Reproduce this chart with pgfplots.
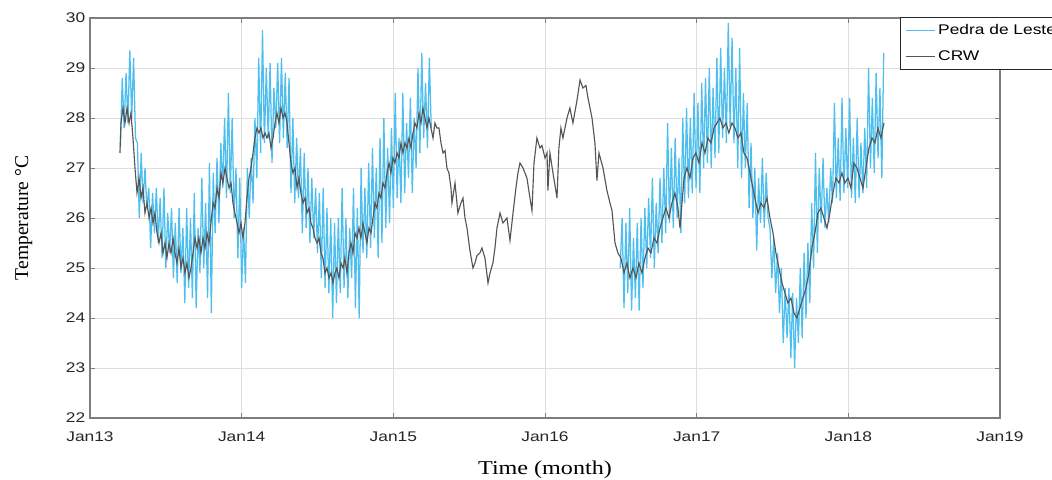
\documentclass[border=0pt]{standalone}
\usepackage{fontspec}
\usepackage{pgfplots}
\pgfplotsset{compat=1.18}
\usepackage{pgfplotstable}
\newfontfamily\tickfont[FakeStretch=1.24]{Liberation Sans}
\newfontfamily\labfont[FakeStretch=1.23]{Liberation Serif}
\newfontfamily\ylabfont{Liberation Serif}
\definecolor{pdl}{RGB}{77,190,238}
\definecolor{crw}{RGB}{85,85,85}
\definecolor{axgray}{RGB}{125,125,125}
\definecolor{gridgray}{RGB}{222,222,222}
\definecolor{txtgray}{RGB}{38,38,38}

% x = months since January 2013, y = temperature (deg C)
\pgfplotstableread{
x y
2.37 27.3
2.45 27.9
2.61 28.2
2.77 27.9
2.93 28.2
3.09 27.9
3.24 28.1
3.40 27.6
3.56 27.0
3.72 26.5
3.88 26.8
4.04 26.4
4.19 26.6
4.35 26.1
4.51 26.3
4.67 26.0
4.83 26.2
4.98 25.9
5.14 26.1
5.30 25.7
5.46 25.5
5.62 25.7
5.78 25.3
5.93 25.5
6.09 25.2
6.25 25.5
6.41 25.3
6.57 25.6
6.73 25.3
6.88 25.1
7.04 25.4
7.20 25.0
7.36 25.2
7.52 24.9
7.67 25.1
7.83 24.8
7.99 25.0
8.15 25.3
8.31 25.6
8.47 25.4
8.62 25.6
8.78 25.3
8.94 25.6
9.10 25.4
9.26 25.7
9.42 25.5
9.57 25.9
9.73 26.3
9.89 26.2
10.05 26.6
10.21 26.4
10.36 26.9
10.52 26.7
10.68 27.0
10.84 26.8
11.00 26.6
11.16 26.7
11.31 26.3
11.47 26.1
11.63 25.9
11.79 25.7
11.95 25.9
12.10 25.6
12.26 25.9
12.42 26.4
12.58 26.8
12.74 27.0
12.90 27.3
13.05 27.6
13.21 27.8
13.37 27.7
13.53 27.8
13.69 27.6
13.85 27.7
14.00 27.6
14.16 27.7
14.32 27.4
14.48 27.6
14.64 27.9
14.79 28.1
14.95 27.9
15.11 28.2
15.27 28.0
15.43 28.1
15.59 27.9
15.74 27.5
15.90 27.1
16.06 26.9
16.22 27.0
16.38 26.6
16.53 26.8
16.69 26.5
16.85 26.3
17.01 26.4
17.17 26.1
17.33 26.2
17.48 25.9
17.64 25.8
17.80 25.6
17.96 25.5
18.12 25.6
18.28 25.3
18.43 25.2
18.59 24.9
18.75 25.0
18.91 24.8
19.07 24.9
19.22 24.7
19.38 24.9
19.54 25.0
19.70 24.8
19.86 25.1
20.02 25.0
20.17 25.2
20.33 24.9
20.49 25.3
20.65 25.5
20.81 25.3
20.97 25.7
21.12 25.6
21.28 25.8
21.44 25.6
21.60 25.9
21.76 25.7
21.91 25.5
22.07 25.8
22.23 25.7
22.39 26.0
22.55 26.3
22.71 26.2
22.86 26.5
23.02 26.4
23.18 26.7
23.34 26.6
23.50 26.9
23.66 27.1
23.81 26.9
23.97 27.2
24.13 27.1
24.29 27.3
24.45 27.2
24.60 27.5
24.76 27.3
24.92 27.5
25.08 27.4
25.24 27.6
25.40 27.4
25.55 27.7
25.71 27.9
25.87 27.8
26.03 28.1
26.19 27.9
26.34 28.2
26.50 28.0
26.66 27.8
26.82 28.0
26.98 27.8
27.14 27.6
27.29 27.9
27.45 27.8
27.61 27.8
27.77 27.5
27.93 27.3
28.09 27.35
28.24 27.0
28.40 26.9
28.56 26.6
28.64 26.3
28.88 26.7
29.11 26.1
29.35 26.3
29.51 26.4
29.67 26.0
29.83 25.8
30.06 25.35
30.30 25.0
30.46 25.1
30.62 25.25
30.85 25.3
31.01 25.4
31.25 25.2
31.49 24.7
31.65 24.9
31.88 25.1
32.04 25.4
32.20 25.8
32.44 26.1
32.67 25.9
32.99 26.0
33.23 25.55
33.47 26.1
33.70 26.6
33.86 26.9
34.02 27.1
34.26 27.0
34.57 26.8
34.81 26.4
34.97 26.15
35.13 27.1
35.36 27.6
35.60 27.4
35.76 27.45
36.00 27.2
36.16 27.3
36.23 26.55
36.39 27.3
36.63 26.9
36.95 26.4
37.10 27.4
37.26 27.8
37.42 27.6
37.74 28.0
37.97 28.2
38.21 27.9
38.53 28.35
38.77 28.76
39.00 28.6
39.24 28.65
39.40 28.4
39.72 28.0
39.95 27.5
40.11 26.75
40.27 27.3
40.59 27.0
40.90 26.55
41.14 26.3
41.30 26.15
41.54 25.5
41.77 25.3
42.01 25.2
42.25 24.9
42.48 25.1
42.72 24.8
42.96 25.0
43.20 24.8
43.43 25.1
43.67 24.9
43.91 25.2
44.15 25.4
44.38 25.3
44.62 25.6
44.86 25.5
45.10 25.8
45.33 26.0
45.57 26.2
45.81 26.0
46.04 26.3
46.28 26.5
46.52 26.2
46.68 25.8
46.84 26.3
47.00 26.8
47.23 27.0
47.47 26.8
47.71 27.2
47.94 27.3
48.18 27.1
48.42 27.5
48.66 27.3
48.89 27.6
49.13 27.5
49.37 27.8
49.61 27.9
49.84 28.0
50.08 27.8
50.32 27.9
50.55 27.7
50.79 27.9
51.03 27.8
51.27 27.6
51.50 27.7
51.74 27.3
51.98 27.2
52.22 26.9
52.45 26.6
52.69 26.3
52.85 26.1
53.09 26.3
53.32 26.2
53.56 26.4
53.80 26.0
54.04 25.7
54.27 25.3
54.51 25.0
54.75 24.7
54.99 24.5
55.22 24.3
55.46 24.4
55.70 24.1
55.93 24.0
56.17 24.2
56.41 24.4
56.65 24.6
56.88 24.9
57.12 25.4
57.36 25.7
57.59 26.1
57.83 26.2
58.07 26.0
58.31 25.8
58.54 26.1
58.78 26.5
59.02 26.8
59.26 26.7
59.49 26.9
59.73 26.7
59.97 26.8
60.21 26.6
60.44 27.1
60.68 27.0
60.92 26.8
61.16 26.6
61.39 27.0
61.63 27.4
61.87 27.6
62.11 27.5
62.34 27.8
62.58 27.6
62.82 27.9
}\crwdata

\pgfplotstableread{
x y
2.40 27.4
2.55 28.8
2.70 27.8
2.85 28.9
3.00 27.9
3.15 29.35
3.30 28.0
3.45 29.2
3.60 27.6
3.75 27.5
3.90 26.0
4.05 27.3
4.20 26.3
4.35 27.0
4.50 26.2
4.65 26.6
4.80 25.4
4.95 26.5
5.10 25.7
5.25 26.6
5.40 25.5
5.55 26.4
5.70 25.2
5.85 26.6
6.00 25.0
6.15 26.1
6.30 25.3
6.45 26.2
6.60 24.8
6.75 25.9
6.90 24.7
7.05 26.2
7.20 24.9
7.35 25.8
7.50 24.3
7.65 26.2
7.80 24.6
7.95 26.0
8.10 24.4
8.25 26.5
8.40 24.2
8.55 25.8
8.70 24.9
8.85 26.8
9.00 25.0
9.15 26.3
9.30 24.4
9.45 27.1
9.60 24.1
9.75 26.9
9.90 25.7
10.05 27.2
10.20 25.9
10.35 27.5
10.50 26.6
10.65 28.0
10.80 26.4
10.95 28.5
11.10 26.5
11.25 28.0
11.40 26.0
11.55 27.0
11.70 25.2
11.85 26.8
12.00 24.6
12.15 25.8
12.30 24.7
12.45 27.0
12.60 26.0
12.75 27.2
12.90 26.3
13.05 28.0
13.20 26.8
13.35 29.2
13.50 27.3
13.65 29.76
13.80 27.5
13.95 29.0
14.10 27.6
14.25 29.1
14.40 27.1
14.55 28.6
14.70 27.8
14.85 29.1
15.00 27.5
15.15 29.2
15.30 27.6
15.45 28.9
15.60 27.4
15.75 28.8
15.90 26.5
16.05 28.0
16.20 26.3
16.35 27.6
16.50 26.4
16.65 27.4
16.80 25.7
16.95 27.3
17.10 25.8
17.25 27.0
17.40 25.5
17.55 26.8
17.70 25.6
17.85 26.6
18.00 25.3
18.15 26.5
18.30 24.8
18.45 26.6
18.60 24.6
18.75 26.2
18.90 24.5
19.05 26.0
19.20 24.0
19.35 25.9
19.50 24.3
19.65 26.0
19.80 24.5
19.95 26.6
20.10 24.6
20.25 26.0
20.40 24.4
20.55 25.8
20.70 24.8
20.85 26.6
21.00 24.2
21.15 26.2
21.30 24.0
21.45 27.0
21.60 25.3
21.75 26.6
21.90 25.2
22.05 27.1
22.20 25.4
22.35 27.4
22.50 25.6
22.65 27.0
22.80 25.2
22.95 27.6
23.10 25.5
23.25 28.0
23.40 25.8
23.55 27.4
23.70 25.9
23.85 27.8
24.00 26.2
24.15 28.5
24.30 26.4
24.45 27.6
24.60 26.3
24.75 28.5
24.90 26.5
25.05 27.9
25.20 26.8
25.35 28.4
25.50 26.5
25.65 28.0
25.80 27.0
25.95 29.0
26.10 27.3
26.25 29.3
26.40 27.6
26.55 28.7
26.70 27.4
26.85 29.2
27.00 27.8
}\pdlA

\pgfplotstableread{
x y
41.95 25.0
42.10 26.0
42.25 24.2
42.40 25.9
42.55 24.5
42.70 26.2
42.85 24.15
43.00 25.6
43.15 24.4
43.30 25.9
43.45 24.15
43.60 26.0
43.75 24.6
43.90 26.2
44.05 25.0
44.20 26.4
44.35 25.2
44.50 26.8
44.65 25.0
44.80 26.3
44.95 25.3
45.10 26.8
45.25 25.5
45.40 27.0
45.55 25.7
45.70 27.9
45.85 25.9
46.00 27.4
46.15 25.8
46.30 27.6
46.45 26.0
46.60 27.2
46.75 25.7
46.90 28.0
47.05 26.3
47.20 28.2
47.35 26.4
47.50 28.0
47.65 26.5
47.80 28.5
47.95 26.6
48.10 28.3
48.25 26.5
48.40 28.7
48.55 27.0
48.70 28.8
48.85 27.1
49.00 29.0
49.15 27.0
49.30 28.6
49.45 27.2
49.60 29.2
49.75 27.3
49.90 29.4
50.05 27.6
50.20 29.0
50.35 27.5
50.50 29.9
50.65 27.8
50.80 29.6
50.95 27.5
51.10 29.0
51.25 27.0
51.40 29.4
51.55 26.8
51.70 28.5
51.85 27.0
52.00 28.3
52.15 26.2
52.30 27.5
52.45 26.0
52.60 27.0
52.75 25.35
52.90 26.8
53.05 25.9
53.20 27.2
53.35 25.8
53.50 26.9
53.65 26.0
53.80 25.8
53.95 24.8
54.10 25.6
54.25 24.5
54.40 25.3
54.55 24.1
54.70 25.0
54.85 23.5
55.00 24.6
55.15 23.6
55.30 24.6
55.45 23.2
55.60 24.5
55.75 23.0
55.90 24.4
56.05 23.5
56.20 25.0
56.35 23.6
56.50 25.3
56.65 24.0
56.80 25.5
56.95 24.3
57.10 26.3
57.25 25.0
57.40 27.3
57.55 25.3
57.70 27.0
57.85 25.9
58.00 27.2
58.15 25.8
58.30 26.6
58.45 25.9
58.60 27.0
58.75 26.3
58.90 28.3
59.05 26.4
59.20 27.6
59.35 26.35
59.50 28.4
59.65 26.5
59.80 27.8
59.95 26.6
60.10 28.4
60.25 26.4
60.40 27.6
60.55 26.3
60.70 28.0
60.85 26.4
61.00 27.5
61.15 26.5
61.30 27.8
61.45 26.6
61.60 29.0
61.75 27.0
61.90 28.4
62.05 26.9
62.20 28.9
62.35 27.2
62.50 28.6
62.65 26.8
62.80 29.3
}\pdlB

\begin{document}
\begin{tikzpicture}
\begin{axis}[
  at={(67.5pt,45.75pt)}, anchor=south west,
  width=682.5pt, height=300pt, scale only axis,
  xmin=0, xmax=72, ymin=22, ymax=30,
  xtick={0,12,24,36,48,60,72},
  xticklabels={Jan13,Jan14,Jan15,Jan16,Jan17,Jan18,Jan19},
  ytick={22,23,...,30},
  /pgf/number format/assume math mode=true,
  ticklabel style={font=\tickfont\fontsize{10.5}{12}\selectfont, text=txtgray},
  xticklabel style={yshift=-6.5pt},
  tick align=inside, tick pos=both,
  major tick length=4pt,
  tick style={axgray, line width=0.6pt},
  axis line style={axgray, line width=0.8pt},
  grid=major,
  grid style={gridgray, line width=0.5pt},
  xlabel={Time (month)},
  ylabel={Temperature °C},
  xlabel style={font=\labfont\fontsize{14.7}{17}\selectfont, at={(axis description cs:0.5,-0.14)}, anchor=base},
  ylabel style={font=\ylabfont\fontsize{14.7}{17}\selectfont, at={(axis description cs:-0.068,0.5)}, anchor=base, rotate=0},
  legend style={at={(axis description cs:0.89,1.003)}, anchor=north west,
    font=\tickfont\fontsize{10.5}{12}\selectfont, draw=txtgray, line width=0.6pt,
    row sep=6.5pt, inner sep=3.5pt, cells={anchor=west}},
  legend image code/.code={\draw[#1] (0pt,0pt) -- (22pt,0pt);},
  legend cell align=left,
]
\addplot[pdl, line width=0.95pt] table[x=x,y=y] {\pdlA};
\addlegendentry{Pedra de Leste}
\addplot[pdl, line width=0.95pt, forget plot] table[x=x,y=y] {\pdlB};
\addplot[crw, line width=0.85pt] table[x=x,y=y] {\crwdata};
\addlegendentry{CRW}
\end{axis}
\pgfresetboundingbox
\path[use as bounding box] (0,0) rectangle (789pt,359.25pt);
\end{tikzpicture}
\end{document}
